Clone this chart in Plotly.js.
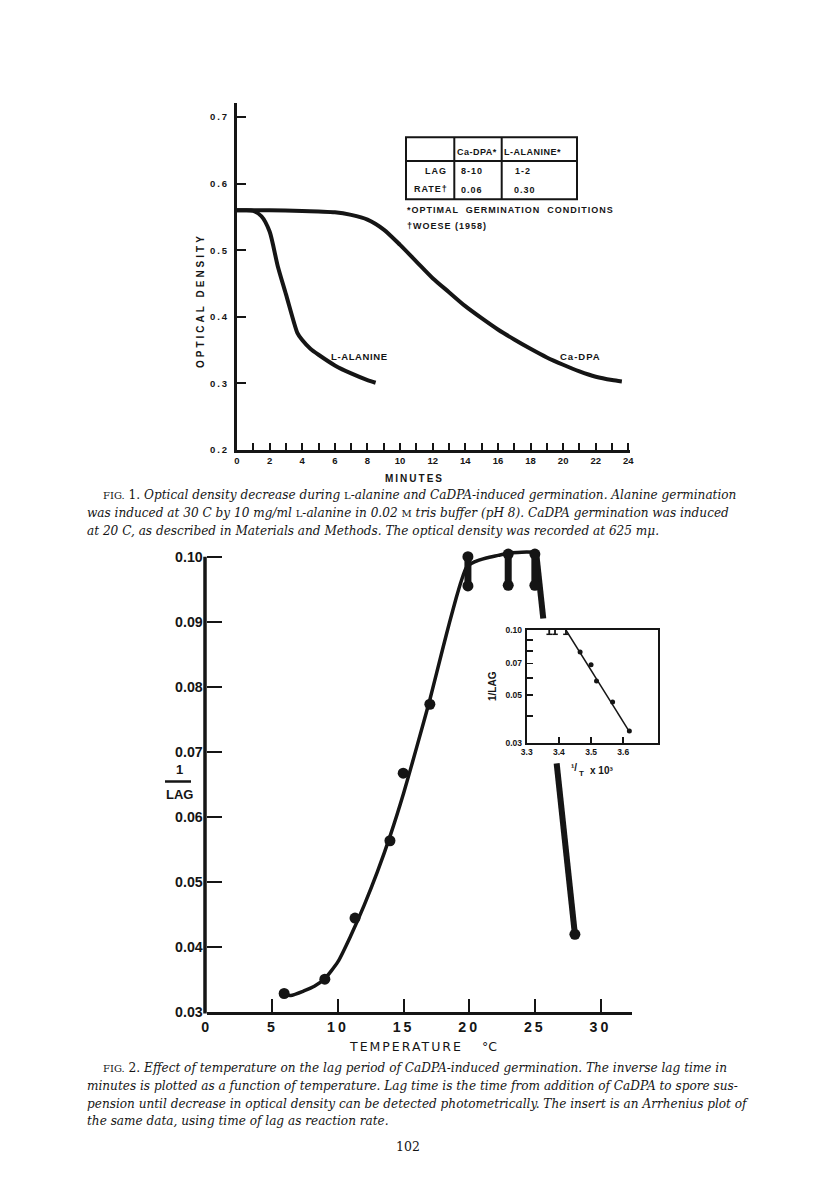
<!DOCTYPE html>
<html><head><meta charset="utf-8">
<script src="https://cdn.plot.ly/plotly-3.0.1.min.js"></script>
<style>html,body{margin:0;padding:0;background:#fff;}#chart{width:816px;height:1201px;}</style>
</head><body><div id="chart"></div>
<script>
// ---------- Fig. 1 data ----------
const alanineMin = [0, 0.5, 1, 1.5, 2, 2.5, 3, 3.5, 3.7, 4, 4.5, 5, 6, 7, 8, 8.5];
const alanineOD  = [0.560, 0.560, 0.559, 0.551, 0.528, 0.476, 0.434, 0.391, 0.376, 0.365, 0.352, 0.343, 0.327, 0.315, 0.305, 0.301];
const cadpaMin = [0, 2, 4, 5, 6, 7, 8, 9, 10, 11, 12, 13, 14, 15, 16, 17, 18, 19, 20, 21, 22, 23, 23.6];
const cadpaOD  = [0.560, 0.560, 0.559, 0.558, 0.557, 0.553, 0.546, 0.531, 0.508, 0.483, 0.458, 0.437, 0.416, 0.398, 0.381, 0.366, 0.352, 0.339, 0.328, 0.318, 0.310, 0.305, 0.303];
const fig1YTicks  = [0.2, 0.3, 0.4, 0.5, 0.6, 0.7];
const fig1YLabels = ['0.2', '0.3', '0.4', '0.5', '0.6', '0.7'];
const fig1XTicks  = [0, 2, 4, 6, 8, 10, 12, 14, 16, 18, 20, 22, 24];
const fig1XLabels = ['0', '2', '4', '6', '8', '10', '12', '14', '16', '18', '20', '22', '24'];
const fig1XMinor  = [1, 3, 5, 7, 9, 11, 13, 15, 17, 19, 21, 23];
const curveLabels = ['L-ALANINE', 'Ca-DPA'];
// table in Fig. 1
const tableHeader = ['Ca-DPA*', 'L-ALANINE*'];
const tableRowNames = ['LAG', 'RATE\u2020'];
const tableCaDPA = ['8-10', '0.06'];
const tableAlanine = ['1-2', '0.30'];
const tableNotes = ['*OPTIMAL  GERMINATION  CONDITIONS', '\u2020WOESE (1958)'];

// ---------- Fig. 2 data ----------
const tempPts = [5.9, 9.0, 11.3, 13.96, 14.97, 17.0, 28.05];
const lagPts  = [0.0328, 0.0350, 0.0444, 0.0563, 0.0667, 0.0773, 0.0419];
const barTemp = [19.9, 22.97, 25.0];
const barLo   = [0.0955, 0.0956, 0.0956];
const barHi   = [0.1000, 0.1004, 0.1004];
const curveTemp = [5.9, 6.4, 7.4, 8.2, 9.0, 10.0, 11.0, 12.0, 13.0, 14.0, 15.0, 16.0, 17.0, 18.0, 18.5, 19.0, 19.4, 19.8, 20.4, 21.3, 22.2, 23.1, 24.0, 25.1];
const curveLag  = [0.0326, 0.0325, 0.0332, 0.0339, 0.0351, 0.0377, 0.0418, 0.0464, 0.0515, 0.0572, 0.0636, 0.0707, 0.0780, 0.0860, 0.0899, 0.0936, 0.0963, 0.0984, 0.0992, 0.0998, 0.1002, 0.1006, 0.1007, 0.1007];
const dropTemp = [25.1, 25.64, null, 26.66, 27.29, 27.67, 28.05];
const dropLag  = [0.1006, 0.0905, null, 0.0682, 0.0556, 0.0480, 0.0419];
const fig2YTicks  = [0.03, 0.04, 0.05, 0.06, 0.07, 0.08, 0.09, 0.10];
const fig2YLabels = ['0.03', '0.04', '0.05', '0.06', '0.07', '0.08', '0.09', '0.10'];
const fig2XTicks  = [0, 5, 10, 15, 20, 25, 30];
const fig2XLabels = ['0', '5', '10', '15', '20', '25', '30'];
// inset (Arrhenius plot)
const invT   = [3.466, 3.500, 3.517, 3.567, 3.619];
const invLag = [0.0791, 0.0689, 0.0580, 0.0463, 0.0340];
const insetBarX  = [3.370, 3.388, 3.422];
const insetBarLo = [0.0955, 0.0955, 0.0955];
const insetBarHi = [0.1000, 0.1000, 0.1000];
const insetLineX = [3.422, 3.619];
const insetLineY = [0.1000, 0.0338];
const insetYTicks  = [0.03, 0.05, 0.07, 0.10];
const insetYLabels = ['0.03', '0.05', '0.07', '0.10'];
const insetYMinor  = [0.04, 0.06, 0.08, 0.09];
const insetXTicks  = [3.3, 3.4, 3.5, 3.6];
const insetXLabels = ['3.3', '3.4', '3.5', '3.6'];

// ---------- captions ----------
const sc = s => '<span style="font-style:normal;font-size:10px">' + s + '</span>';
const cap1 = [
  sc('FIG.') + '<span style="font-style:normal;font-size:12.2px"> 1. </span>Optical density decrease during ' + sc('L') + '-alanine and CaDPA-induced germination. Alanine germination',
  'was induced at 30 C by 10 mg/ml ' + sc('L') + '-alanine in 0.02 ' + sc('M') + ' tris buffer (pH 8). CaDPA germination was induced',
  'at 20 C, as described in Materials and Methods. The optical density was recorded at 625 m\u03bc.'
];
const cap2 = [
  sc('FIG.') + '<span style="font-style:normal;font-size:12.2px"> 2. </span>Effect of temperature on the lag period of CaDPA-induced germination. The inverse lag time in',
  'minutes is plotted as a function of temperature. Lag time is the time from addition of CaDPA to spore sus-',
  'pension until decrease in optical density can be detected photometrically. The insert is an Arrhenius plot of',
  'the same data, using time of lag as reaction rate.'
];
const pageNumber = '102';

// ---------- helpers ----------
const W = 816, H = 1201;
const px = v => v / W;
const py = v => 1 - v / H;
const INK = '#151515';
const F1 = {family: 'Liberation Sans, Arial, sans-serif', size: 9.5, color: INK, weight: 'bold'};
const F2 = {family: 'DejaVu Sans, sans-serif', size: 13, color: INK};
const F2t = {family: 'Liberation Sans, Arial, sans-serif', size: 14.2, color: INK, weight: 'bold'};
const F3 = {family: 'Liberation Sans, Arial, sans-serif', size: 8.5, color: INK, weight: 'bold'};
const CAP = {family: 'DejaVu Serif, serif', size: 12.1, color: INK, style: 'italic'};

function ann(text, x, y, font, extra) {
  return Object.assign({text: text, x: px(x), y: py(y), xref: 'paper', yref: 'paper',
    showarrow: false, font: font, xanchor: 'center', yanchor: 'middle'}, extra || {});
}
const sp = (s, n) => '<span style="letter-spacing:' + n + 'px">' + s + '</span>';

// ---------- traces ----------
const traces = [];
traces.push({x: alanineMin, y: alanineOD, xaxis: 'x', yaxis: 'y', mode: 'lines',
  line: {color: INK, width: 4, shape: 'spline', smoothing: 0.7}, hoverinfo: 'skip'});
traces.push({x: cadpaMin, y: cadpaOD, xaxis: 'x', yaxis: 'y', mode: 'lines',
  line: {color: INK, width: 4, shape: 'spline', smoothing: 0.7}, hoverinfo: 'skip'});

traces.push({x: curveTemp, y: curveLag, xaxis: 'x2', yaxis: 'y2', mode: 'lines',
  line: {color: INK, width: 3.5, shape: 'spline', smoothing: 0.6}, hoverinfo: 'skip'});
traces.push({x: dropTemp, y: dropLag, xaxis: 'x2', yaxis: 'y2', mode: 'lines', connectgaps: false,
  line: {color: INK, width: 6}, hoverinfo: 'skip'});
const bx = [], by = [];
barTemp.forEach((t, i) => { bx.push(t, t, null); by.push(barLo[i], barHi[i], null); });
traces.push({x: bx, y: by, xaxis: 'x2', yaxis: 'y2', mode: 'lines', line: {color: INK, width: 7}, hoverinfo: 'skip'});
traces.push({x: barTemp.concat(barTemp), y: barLo.concat(barHi), xaxis: 'x2', yaxis: 'y2', mode: 'markers',
  marker: {color: INK, size: 11}, cliponaxis: false, hoverinfo: 'skip'});
traces.push({x: tempPts, y: lagPts, xaxis: 'x2', yaxis: 'y2', mode: 'markers',
  marker: {color: INK, size: 11}, cliponaxis: false, hoverinfo: 'skip'});

traces.push({x: insetLineX, y: insetLineY, xaxis: 'x3', yaxis: 'y3', mode: 'lines',
  line: {color: INK, width: 1.5}, hoverinfo: 'skip'});
traces.push({x: invT, y: invLag, xaxis: 'x3', yaxis: 'y3', mode: 'markers',
  marker: {color: INK, size: 5}, cliponaxis: false, hoverinfo: 'skip'});
const ibx = [], iby = [];
insetBarX.forEach((t, i) => { ibx.push(t, t, null); iby.push(insetBarLo[i], insetBarHi[i], null); });
traces.push({x: ibx, y: iby, xaxis: 'x3', yaxis: 'y3', mode: 'lines', line: {color: INK, width: 1.8}, hoverinfo: 'skip'});
traces.push({x: insetBarX.concat(insetBarX), y: insetBarLo.concat(insetBarHi), xaxis: 'x3', yaxis: 'y3', mode: 'markers',
  marker: {color: INK, size: 4, symbol: 'line-ew', line: {color: INK, width: 1.5}}, cliponaxis: false, hoverinfo: 'skip'});

// ---------- axes ----------
const baseAxis = {showgrid: false, zeroline: false, showline: true, linecolor: INK, ticks: 'inside',
  tickcolor: INK, tickmode: 'array', fixedrange: true};
const Y2TOP = 0.1025;           // plot area reaches a bit above 0.10 so the plateau is not clipped
const y2TopPx = 1011.7 - (Y2TOP - 0.03) * 6500;
const layout = {
  width: W, height: H, margin: {l: 0, r: 0, t: 0, b: 0},
  paper_bgcolor: '#fff', plot_bgcolor: '#fff', showlegend: false,
  xaxis: Object.assign({}, baseAxis, {domain: [px(237), px(630)], range: [0, 24.1], anchor: 'y',
    linewidth: 3, ticklen: 7, tickwidth: 2, tickvals: fig1XTicks, ticktext: fig1XLabels, tickfont: F1, ticklabelstandoff: 0,
    minor: {tickmode: 'array', tickvals: fig1XMinor, ticks: 'inside', ticklen: 7, tickwidth: 2, tickcolor: INK, showgrid: false}}),
  yaxis: Object.assign({}, baseAxis, {domain: [py(450), py(103.3)], range: [0.2, 0.7206], anchor: 'x',
    linewidth: 3, ticklen: 9, tickwidth: 2, tickvals: fig1YTicks, ticktext: fig1YLabels.map(s => sp(s, 2)), tickfont: F1, ticklabelstandoff: 3}),
  xaxis2: Object.assign({}, baseAxis, {domain: [px(206.7), px(632)], range: [0, 32.4], anchor: 'y2',
    linewidth: 3.5, ticklen: 13, tickwidth: 2, tickvals: fig2XTicks, ticktext: fig2XLabels.map(s => sp(s, 3)), tickfont: F2t, ticklabelstandoff: 0}),
  yaxis2: Object.assign({}, baseAxis, {domain: [py(1011.7), py(y2TopPx)], range: [0.03, Y2TOP], anchor: 'x2', showline: false,
    ticklen: 15, tickwidth: 2, tickvals: fig2YTicks, ticktext: fig2YLabels, tickfont: F2t, ticklabelstandoff: 3}),
  xaxis3: Object.assign({}, baseAxis, {domain: [px(526.7), px(658)], range: [3.3, 3.708], anchor: 'y3',
    linewidth: 2, mirror: true, ticklen: 6, tickwidth: 1.5, tickvals: insetXTicks, ticktext: insetXLabels, tickfont: F3, ticklabelstandoff: 0}),
  yaxis3: Object.assign({}, baseAxis, {domain: [py(742.7), py(630)], type: 'log', range: [Math.log10(0.03), -1], anchor: 'x3',
    linewidth: 2, mirror: true, ticklen: 6, tickwidth: 1.5, tickvals: insetYTicks, ticktext: insetYLabels, tickfont: F3, ticklabelstandoff: 1,
    minor: {tickmode: 'array', tickvals: insetYMinor, ticks: 'inside', ticklen: 6, tickwidth: 1.5, tickcolor: INK, showgrid: false}}),
  shapes: [],
  annotations: []
};
// Fig. 2 y axis line: from 0.03 up to the 0.10 tick only
layout.shapes.push({type: 'line', xref: 'paper', yref: 'paper', x0: px(205), x1: px(205), y0: py(1013.5), y1: py(556.7), line: {color: INK, width: 3.5}});

// table of Fig. 1
const tl = {color: INK, width: 2};
layout.shapes.push({type: 'rect', xref: 'paper', yref: 'paper', x0: px(406), x1: px(577), y0: py(137.3), y1: py(199.3), line: tl});
layout.shapes.push({type: 'line', xref: 'paper', yref: 'paper', x0: px(454.3), x1: px(454.3), y0: py(137.3), y1: py(199.3), line: tl});
layout.shapes.push({type: 'line', xref: 'paper', yref: 'paper', x0: px(501.7), x1: px(501.7), y0: py(137.3), y1: py(199.3), line: tl});
layout.shapes.push({type: 'line', xref: 'paper', yref: 'paper', x0: px(406), x1: px(577), y0: py(161), y1: py(161), line: tl});
const TF = Object.assign({}, F3, {size: 9});
layout.annotations.push(ann(sp(tableHeader[0], 0.5), 477, 152, TF));
layout.annotations.push(ann(sp(tableHeader[1], 0.5), 532, 152, TF));
layout.annotations.push(ann(sp(tableRowNames[0], 1), 436, 171, TF));
layout.annotations.push(ann(sp(tableRowNames[1], 1), 431, 189, TF));
layout.annotations.push(ann(sp(tableCaDPA[0], 1), 472, 171, TF));
layout.annotations.push(ann(sp(tableCaDPA[1], 1), 472, 190, TF));
layout.annotations.push(ann(sp(tableAlanine[0], 1), 523, 171, TF));
layout.annotations.push(ann(sp(tableAlanine[1], 1), 525, 190, TF));
layout.annotations.push(ann(sp(tableNotes[0], 1), 405, 210, TF, {xanchor: 'left'}));
layout.annotations.push(ann(sp(tableNotes[1], 1), 405, 226, TF, {xanchor: 'left'}));

// Fig. 1 axis titles and curve labels
layout.annotations.push(ann(sp('OPTICAL DENSITY', 3), 200, 301, Object.assign({}, F1, {size: 10}), {textangle: -90}));
layout.annotations.push(ann(sp('MINUTES', 2), 414, 478, Object.assign({}, F1, {size: 10})));
layout.annotations.push({text: sp(curveLabels[0], 0.6), x: 7.5, y: 0.341, xref: 'x', yref: 'y', showarrow: false, font: F1});
layout.annotations.push({text: sp(curveLabels[1], 1), x: 21.04, y: 0.341, xref: 'x', yref: 'y', showarrow: false, font: F1});

// Fig. 2 axis titles
const F2b = Object.assign({}, F2t, {size: 13});
layout.annotations.push(ann('1', 179, 769, F2b));
layout.shapes.push({type: 'line', xref: 'paper', yref: 'paper', x0: px(165), x1: px(191), y0: py(781.5), y1: py(781.5), line: {color: INK, width: 2.5}});
layout.annotations.push(ann('LAG', 179, 794, F2b));
layout.annotations.push(ann(sp('TEMPERATURE', 2), 406, 1046, Object.assign({}, F2, {size: 12.5})));
layout.annotations.push(ann('\u00b0C', 489, 1046, Object.assign({}, F2, {size: 12.5})));
// inset titles
layout.annotations.push(ann('1/LAG', 492, 686, Object.assign({}, F3, {size: 10}), {textangle: -90}));
const F3t = Object.assign({}, F3, {size: 10});
layout.annotations.push(ann('\u00b9/', 569, 767, F3t, {xanchor: 'left'}));
layout.annotations.push(ann('T', 577, 773, Object.assign({}, F3, {size: 8}), {xanchor: 'left'}));
layout.annotations.push(ann('x 10\u00b3', 588, 770, F3t, {xanchor: 'left'}));

// captions
const cap1Y = [495, 513, 531];
cap1.forEach((t, i) => layout.annotations.push(ann(t, i === 0 ? 101 : 85, cap1Y[i], CAP, {xanchor: 'left'})));
const cap2Y = [1068, 1086, 1104, 1121];
cap2.forEach((t, i) => layout.annotations.push(ann(t, i === 0 ? 101 : 85, cap2Y[i], CAP, {xanchor: 'left'})));
layout.annotations.push(ann(pageNumber, 408, 1146, {family: 'DejaVu Serif, serif', size: 12.5, color: INK}));

Plotly.newPlot('chart', traces, layout, {staticPlot: true, displayModeBar: false});
</script>
</body></html>
